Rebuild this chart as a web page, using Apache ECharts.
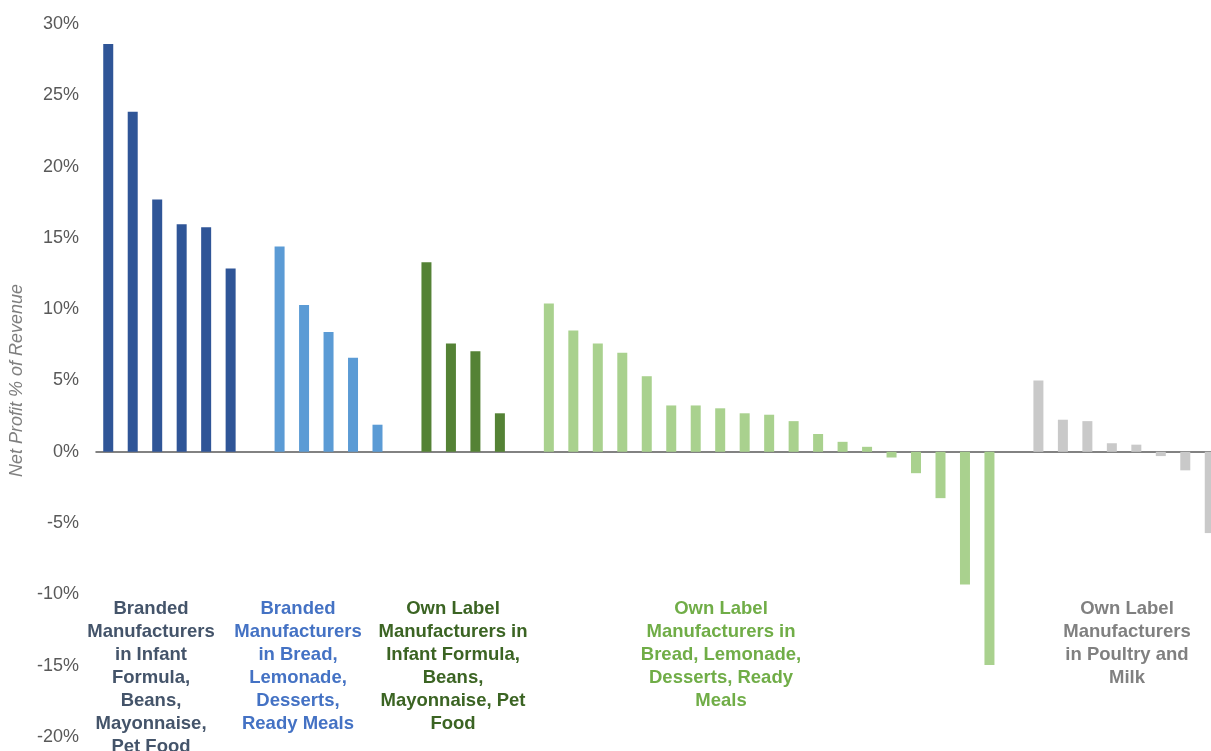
<!DOCTYPE html>
<html>
<head>
<meta charset="utf-8">
<script src="https://cdn.jsdelivr.net/npm/echarts@6/dist/echarts.min.js"></script>
<style>
  html, body { margin: 0; padding: 0; background: #ffffff; }
  #chart { width: 1211px; height: 751px; }
</style>
</head>
<body>
<div id="chart"></div>
<script>
// Net profit as % of revenue, one bar per manufacturer, grouped by segment
const brandedInfant = [28.6, 23.85, 17.7, 15.95, 15.75, 12.85];
const brandedBread = [14.4, 10.3, 8.4, 6.6, 1.9];
const ownInfant = [13.3, 7.6, 7.05, 2.7];
const ownBread = [10.4, 8.5, 7.6, 6.95, 5.3, 3.25, 3.25, 3.05, 2.7, 2.6, 2.15, 1.25, 0.7, 0.35, -0.4, -1.5, -3.25, -9.3, -14.95];
const ownPoultry = [5.0, 2.25, 2.15, 0.6, 0.5, -0.3, -1.3, -5.7];

const groupNames = [
  'Branded\nManufacturers\nin Infant\nFormula,\nBeans,\nMayonnaise,\nPet Food',
  'Branded\nManufacturers\nin Bread,\nLemonade,\nDesserts,\nReady Meals',
  'Own Label\nManufacturers in\nInfant Formula,\nBeans,\nMayonnaise, Pet\nFood',
  'Own Label\nManufacturers in\nBread, Lemonade,\nDesserts, Ready\nMeals',
  'Own Label\nManufacturers\nin Poultry and\nMilk'
];
const yTicks = [-20, -15, -10, -5, 0, 5, 10, 15, 20, 25, 30];

const groups = [brandedInfant, brandedBread, ownInfant, ownBread, ownPoultry];
const barColors = ['#2F5597', '#5B9BD5', '#548235', '#A9D18E', '#C9C9C9'];
const textColors = ['#44546A', '#4472C4', '#3B6423', '#70AD47', '#808080'];
// horizontal centre of each group caption, in px
const captionX = [151, 298, 453, 721, 1127];

// Lay the groups out on one category axis with an empty slot between groups
const categories = [];
const seriesData = groups.map(() => []);
groups.forEach((vals, g) => {
  if (g > 0) {
    categories.push('gap' + g);
    seriesData.forEach(s => s.push('-'));
  }
  vals.forEach((v, i) => {
    categories.push('g' + g + '_' + i);
    seriesData.forEach((s, k) => s.push(k === g ? v : '-'));
  });
});

const chart = echarts.init(document.getElementById('chart'), null, { renderer: 'canvas' });

chart.setOption({
  animation: false,
  backgroundColor: '#ffffff',
  textStyle: { fontFamily: 'Liberation Sans, Arial, sans-serif' },
  grid: { left: 96, top: 24, width: 1126, height: 713, containLabel: false, outerBoundsMode: 'none' },
  xAxis: {
    type: 'category',
    data: categories,
    axisLine: { onZero: true, lineStyle: { color: '#595959', width: 1.5 } },
    axisTick: { show: false },
    axisLabel: { show: false },
    splitLine: { show: false }
  },
  yAxis: {
    type: 'value',
    min: yTicks[0],
    max: yTicks[yTicks.length - 1],
    interval: 5,
    name: 'Net Profit % of Revenue',
    nameLocation: 'middle',
    nameGap: 66,
    nameRotate: 90,
    nameTextStyle: { color: '#7F7F7F', fontSize: 18, fontStyle: 'italic', fontFamily: 'Liberation Sans, Arial, sans-serif' },
    axisLine: { show: false },
    axisTick: { show: false },
    splitLine: { show: false },
    axisLabel: {
      color: '#595959',
      fontSize: 18,
      margin: 17,
      padding: [3, 0, 0, 0],
      formatter: v => v + '%'
    }
  },
  series: seriesData.map((d, g) => ({
    type: 'bar',
    name: 'group' + g,
    stack: 'all',
    data: d,
    barWidth: 10,
    itemStyle: { color: barColors[g] }
  })),
  graphic: groupNames.map((txt, g) => ({
    type: 'text',
    x: captionX[g],
    y: 597,
    style: {
      text: txt,
      fill: textColors[g],
      font: 'bold 18.5px "Liberation Sans", Arial, sans-serif',
      align: 'center',
      verticalAlign: 'top',
      lineHeight: 23
    }
  }))
});
</script>
</body>
</html>
